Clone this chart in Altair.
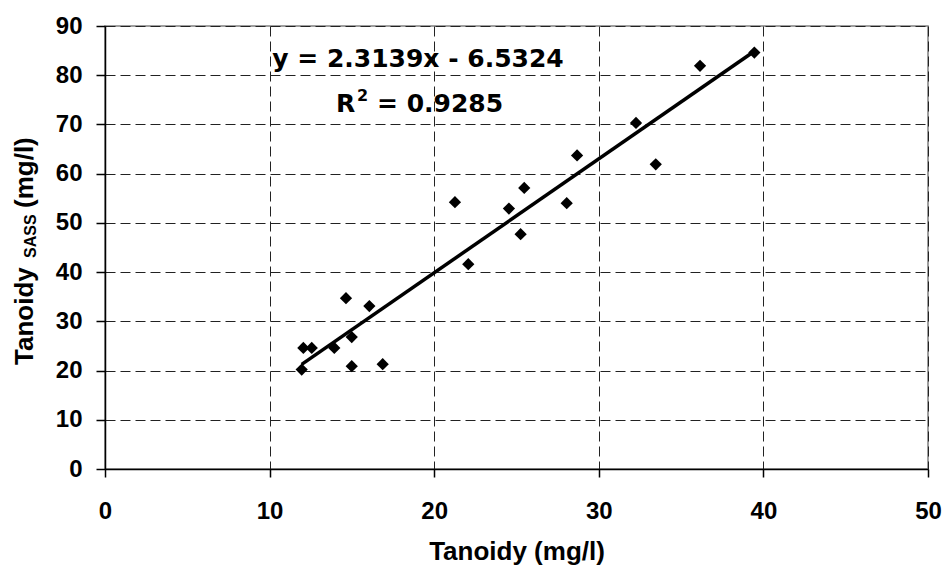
import altair as alt
import pandas as pd

# Data
tanoidy = [11.95, 12.05, 12.56, 13.93, 14.64, 14.99, 14.99, 16.06, 16.87,
           21.26, 22.07, 24.54, 25.25, 25.47, 28.05, 28.68, 33.46, 32.26,
           36.15, 39.45]
tanoidy_sass = [20.2, 24.6, 24.6, 24.6, 34.7, 26.8, 20.9, 33.1, 21.3,
                54.2, 41.6, 52.9, 47.7, 57.1, 54.0, 63.7, 61.9, 70.3,
                81.9, 84.6]
x_ticks = [0, 10, 20, 30, 40, 50]
y_ticks = [0, 10, 20, 30, 40, 50, 60, 70, 80, 90]
equation_text = "y = 2.3139x - 6.5324"
r2_parts = ["R", "2", "= 0.9285"]

df = pd.DataFrame({"x": tanoidy, "y": tanoidy_sass})

FONT = "Liberation Sans"
EQ_FONT = "DejaVu Sans"

xscale = alt.Scale(domain=[0, 50], nice=False, zero=True)
yscale = alt.Scale(domain=[0, 90], nice=False, zero=True)

xenc = alt.X("x:Q", scale=xscale,
             axis=alt.Axis(values=x_ticks, title="Tanoidy (mg/l)", format="d",
                           labelPadding=22, titlePadding=15, tickSize=8,
                           labelFlush=False, labelOverlap=False))
yenc = alt.Y("y:Q", scale=yscale,
             axis=alt.Axis(values=y_ticks, title=None, format="d",
                           labelPadding=14, tickSize=9, labelOverlap=False))

points = alt.Chart(df).mark_point(
    shape="diamond", filled=True, color="black", size=150, opacity=1
).encode(x=xenc, y=yenc)

trend = alt.Chart(df).transform_regression("x", "y").mark_line(
    color="black", strokeWidth=3.5
).encode(x=alt.X("x:Q", scale=xscale), y=alt.Y("y:Q", scale=yscale))


def label(text, size, x, y, align="left", font=EQ_FONT, angle=None):
    kw = dict(font=font, fontSize=size, fontWeight="bold", align=align,
              baseline="alphabetic", color="black")
    if angle is not None:
        kw["angle"] = angle
    return alt.Chart(pd.DataFrame({"t": [text]})).mark_text(**kw).encode(
        text="t:N", x=alt.value(x), y=alt.value(y))


eq = label(equation_text, 25, 313, 41, align="center")
r2a = label(r2_parts[0], 25, 231, 86)
r2b = label(r2_parts[1], 16, 252, 75)
r2c = label(r2_parts[2], 25, 272, 86)

# y-axis title with subscript
yt1 = label("Tanoidy", 26, -72, 339, font=FONT, angle=270)
yt2 = label("SASS", 16, -69, 232, font=FONT, angle=270)
yt3 = label("(mg/l)", 26, -72, 182, font=FONT, angle=270)

chart = alt.layer(points, trend, eq, r2a, r2b, r2c, yt1, yt2, yt3).properties(
    width=823, height=443,
    autosize=alt.AutoSizeParams(type="none"),
    padding={"left": 105, "top": 26, "right": 16, "bottom": 96},
    background="white",
).configure_view(
    stroke="#808080", strokeWidth=1.5
).configure_axis(
    labelFont=FONT, labelFontSize=24, labelFontWeight="bold", labelColor="black",
    titleFont=FONT, titleFontSize=26, titleFontWeight="bold", titleColor="black",
    domainColor="black", domainWidth=1.5, tickColor="black", tickWidth=1.5,
    gridColor="#222222", gridWidth=1, gridDash=[10, 5], grid=True,
)

chart.save("out.html", embed_options={"renderer": "svg", "actions": False})
